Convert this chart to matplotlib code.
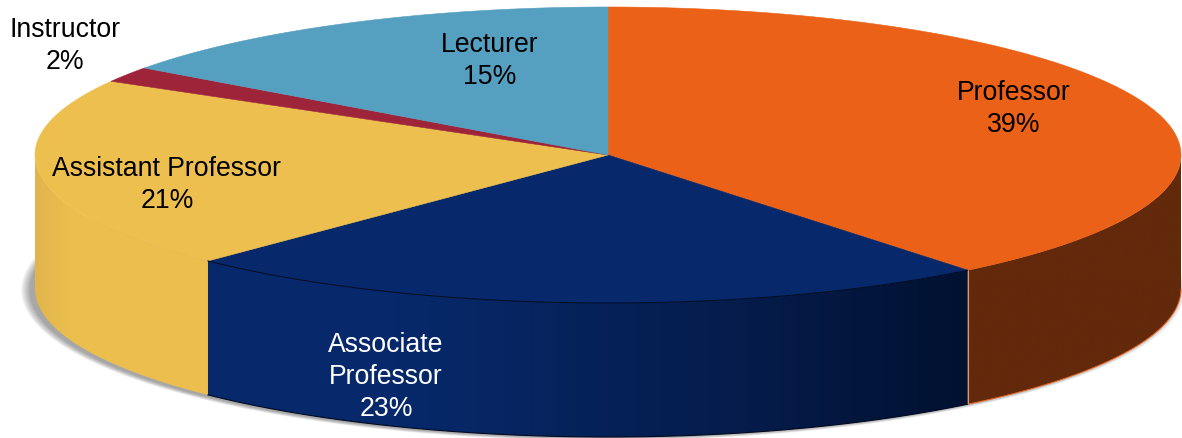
import numpy as np
import matplotlib
matplotlib.use('Agg')
import matplotlib.pyplot as plt
from matplotlib.patches import Ellipse, Polygon

plt.rcParams['font.family'] = ['Liberation Sans', 'DejaVu Sans']

# slices, clockwise from 12 o'clock
names = ['Professor', 'Associate\nProfessor', 'Assistant Professor', 'Instructor', 'Lecturer']
shares = [39.2, 23.1, 21.0, 1.7, 15.0]
percent_labels = ['39%', '23%', '21%', '2%', '15%']

top_colors = ['#EB6117', '#07296B', '#EDBF4E', '#9E2539', '#559FC1']
text_colors = ['black', 'white', 'black', 'black', 'black']
label_xy = [(1014, 109), (386, 377), (167, 185), (65, 46), (490, 61)]

# side colour: (position along the visible front, colour) low x to high x
side_stops = [
    [(0, '#62290B'), (1, '#62290B')],
    [(0, '#07296B'), (0.25, '#07296B'), (0.7, '#051C4C'), (1, '#011130')],
    [(0, '#E0B54C'), (0.2, '#EBBE4E'), (1, '#EDBF4E')],
    [(0, '#7E1D2D'), (1, '#7E1D2D')],
    [(0, '#3F7F9C'), (1, '#3F7F9C')],
]

cx, cy, rx, ry, depth = 608, 155, 573, 148, 134


def rim(deg):
    # deg is clockwise from the top
    t = np.radians(deg)
    return cx + rx*np.sin(t), cy - ry*np.cos(t)


fig = plt.figure(figsize=(11.82, 4.38), dpi=100)
ax = fig.add_axes([0, 0, 1, 1])
ax.axis('off')

# soft shadow under the disc
for k in range(9, -1, -1):
    ax.add_patch(Ellipse((cx - 5, cy + depth + 1), 2*(rx + k), 2*(ry + 0.3*k),
                         fc='black', ec='none', alpha=0.04, zorder=1))

edges = np.concatenate([[0], np.cumsum(shares)])*3.6

# front wall, one clipped gradient per slice
for i in range(len(shares)):
    a0, a1 = max(edges[i], 90), min(edges[i+1], 270)
    if a1 <= a0:
        continue
    steps = np.linspace(a0, a1, 300)
    xs, ys = rim(steps)
    x0, x1 = xs.min(), xs.max()
    pos = np.linspace(0, 1, 400)
    xp = [s[0] for s in side_stops[i]]
    rgb = [matplotlib.colors.to_rgb(s[1]) for s in side_stops[i]]
    grad = np.array([[np.interp(p, xp, [c[n] for c in rgb]) for n in range(3)] for p in pos])
    im = ax.imshow(grad[np.newaxis, :, :], extent=(x0, x1, ys.max() + depth, ys.min()),
                   aspect='auto', interpolation='bilinear', zorder=2)
    wall = Polygon(np.c_[np.r_[xs, xs[::-1]], np.r_[ys, ys[::-1] + depth]],
                   closed=True, transform=ax.transData, fc='none', ec='none')
    ax.add_patch(wall)
    im.set_clip_path(wall)

# rim lines on the wall
steps = np.linspace(edges[0], edges[1], 200)
steps = steps[steps >= 90]
xs, ys = rim(steps)
ax.plot(xs, ys + depth, color='#EB6117', lw=0.7, zorder=3)
ax.plot([xs[-1], xs[-1]], [ys[-1], ys[-1] + depth], color='#E8936A', lw=0.8, zorder=3)
steps = np.linspace(edges[1], edges[2], 200)
xs, ys = rim(steps)
ax.plot(xs, ys + depth, color='#010A20', lw=0.8, zorder=3)

# top faces
for i in range(len(shares)):
    steps = np.linspace(edges[i], edges[i+1], 200)
    xs, ys = rim(steps)
    ax.fill(np.r_[cx, xs], np.r_[cy, ys], fc=top_colors[i], ec=top_colors[i],
            lw=0.4, zorder=4)

# dark line between top and wall of the navy slice
steps = np.linspace(edges[1], edges[2], 200)
xs, ys = rim(steps)
ax.plot(xs, ys, color='#010A20', lw=0.7, zorder=5)

for i in range(len(names)):
    ax.text(label_xy[i][0], label_xy[i][1], names[i] + '\n' + percent_labels[i],
            ha='center', va='center', fontsize=19.2, color=text_colors[i],
            linespacing=1.28, zorder=6)

ax.set_xlim(0, 1182)
ax.set_ylim(438, 0)

fig.savefig('out.png', dpi=100)
